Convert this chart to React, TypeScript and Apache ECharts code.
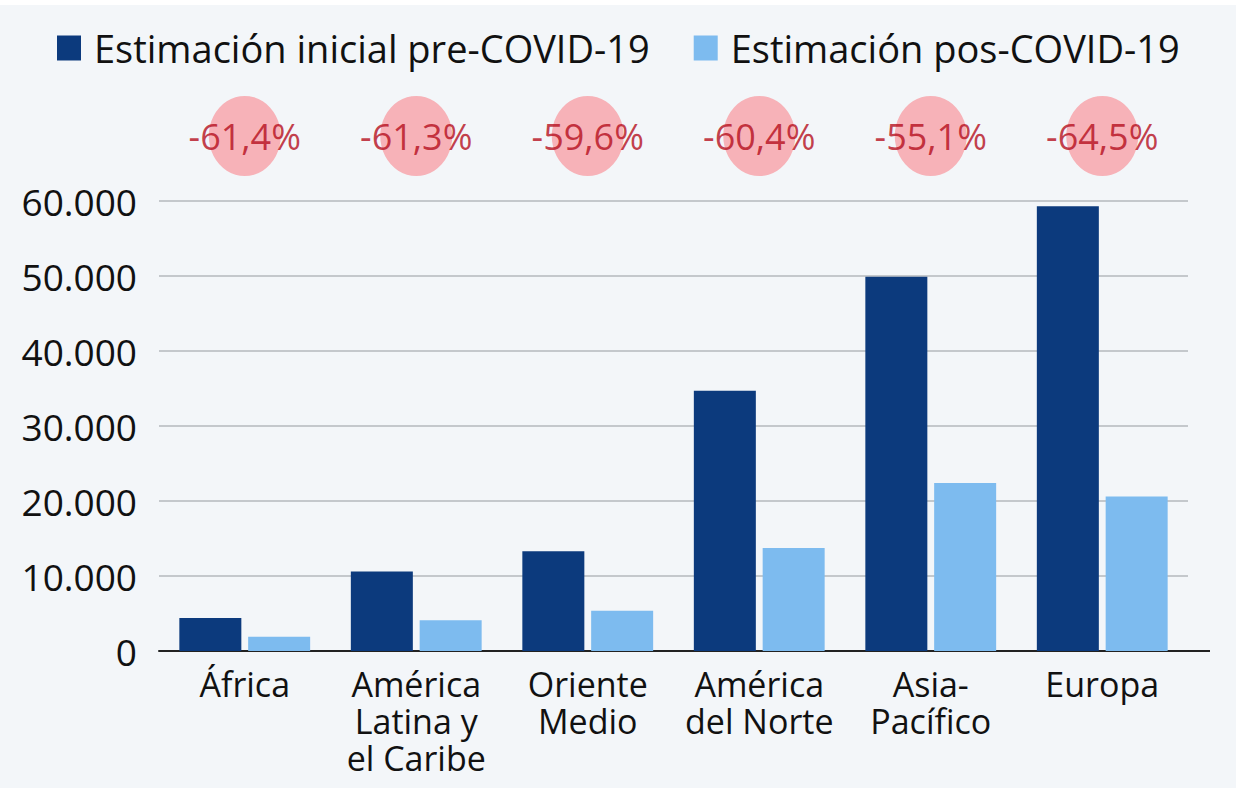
import React, { useEffect, useRef } from "react";
import * as echarts from "echarts";

const categories = [
  "África",
  "América\nLatina y\nel Caribe",
  "Oriente\nMedio",
  "América\ndel Norte",
  "Asia-\nPacífico",
  "Europa",
];
const preCovid = [4400, 10600, 13300, 34700, 49900, 59300];
const posCovid = [1900, 4100, 5370, 13750, 22400, 20600];
const changeLabels = ["-61,4%", "-61,3%", "-59,6%", "-60,4%", "-55,1%", "-64,5%"];
const seriesNames = ["Estimación inicial pre-COVID-19", "Estimación pos-COVID-19"];

const FONT = "'Open Sans', 'Noto Sans', sans-serif";

export default function App() {
  const ref = useRef<HTMLDivElement>(null);
  useEffect(() => {
    document.body.style.margin = "0";
    if (!ref.current) return;
    const chart = echarts.init(ref.current, null, { renderer: "svg" });
    const fmt = (v: number) => String(v).replace(/\B(?=(\d{3})+(?!\d))/g, ".");
    chart.setOption({
      animation: false,
      backgroundColor: "#f3f6f9",
      textStyle: { fontFamily: FONT },
      legend: {
        left: 52,
        top: 21,
        itemWidth: 24,
        itemHeight: 25,
        itemGap: 44,
        icon: "rect",
        data: seriesNames,
        textStyle: { fontSize: 38, color: "#111", fontFamily: FONT, lineHeight: 44, padding: [0, 0, 0, 8] },
      },
      grid: [
        { left: 159, right: 48, top: 201, bottom: 137 },
        { left: 159, right: 48, top: 95, height: 82 },
      ],
      xAxis: [
        {
          type: "category",
          gridIndex: 0,
          data: categories,
          axisTick: { show: false },
          axisLine: { lineStyle: { color: "#222", width: 2 } },
          axisLabel: {
            fontSize: 34,
            lineHeight: 37,
            color: "#111",
            margin: 14,
            fontFamily: FONT,
            interval: 0,
          },
        },
        {
          type: "category",
          gridIndex: 1,
          data: categories,
          show: false,
        },
      ],
      yAxis: [
        {
          type: "value",
          gridIndex: 0,
          min: 0,
          max: 60000,
          interval: 10000,
          axisLine: { show: false },
          axisTick: { show: false },
          splitLine: { lineStyle: { color: "#b5b8bc", width: 1.5 } },
          axisLabel: {
            fontSize: 37,
            color: "#111",
            margin: 22,
            fontFamily: FONT,
            formatter: (v: number) => fmt(v),
          },
        },
        { type: "value", gridIndex: 1, min: -1, max: 1, show: false },
      ],
      series: [
        {
          name: seriesNames[0],
          type: "bar",
          xAxisIndex: 0,
          yAxisIndex: 0,
          data: preCovid,
          barWidth: 62,
          barGap: "11%",
          itemStyle: { color: "#0c3a7d" },
        },
        {
          name: seriesNames[1],
          type: "bar",
          xAxisIndex: 0,
          yAxisIndex: 0,
          data: posCovid,
          barWidth: 62,
          barGap: "11%",
          itemStyle: { color: "#7dbbef" },
        },
        {
          type: "scatter",
          xAxisIndex: 1,
          yAxisIndex: 1,
          data: changeLabels.map(() => 0),
          symbol: "circle",
          symbolSize: [72, 80],
          itemStyle: { color: "#f8a1a8" },
          silent: true,
          label: {
            show: true,
            position: "inside",
            formatter: (p: any) => changeLabels[p.dataIndex],
            fontSize: 36,
            color: "#b50e1c",
            fontFamily: FONT,
          },
        },
      ],
      graphic: [
        { type: "rect", shape: { x: 0, y: 0, width: 1236, height: 5 }, style: { fill: "#ffffff" } },
        { type: "line", shape: { x1: 1186, y1: 651, x2: 1210, y2: 651 }, style: { stroke: "#222", lineWidth: 2 } },
      ],
    });
    return () => chart.dispose();
  }, []);
  return <div ref={ref} style={{ width: 1236, height: 788 }} />;
}
